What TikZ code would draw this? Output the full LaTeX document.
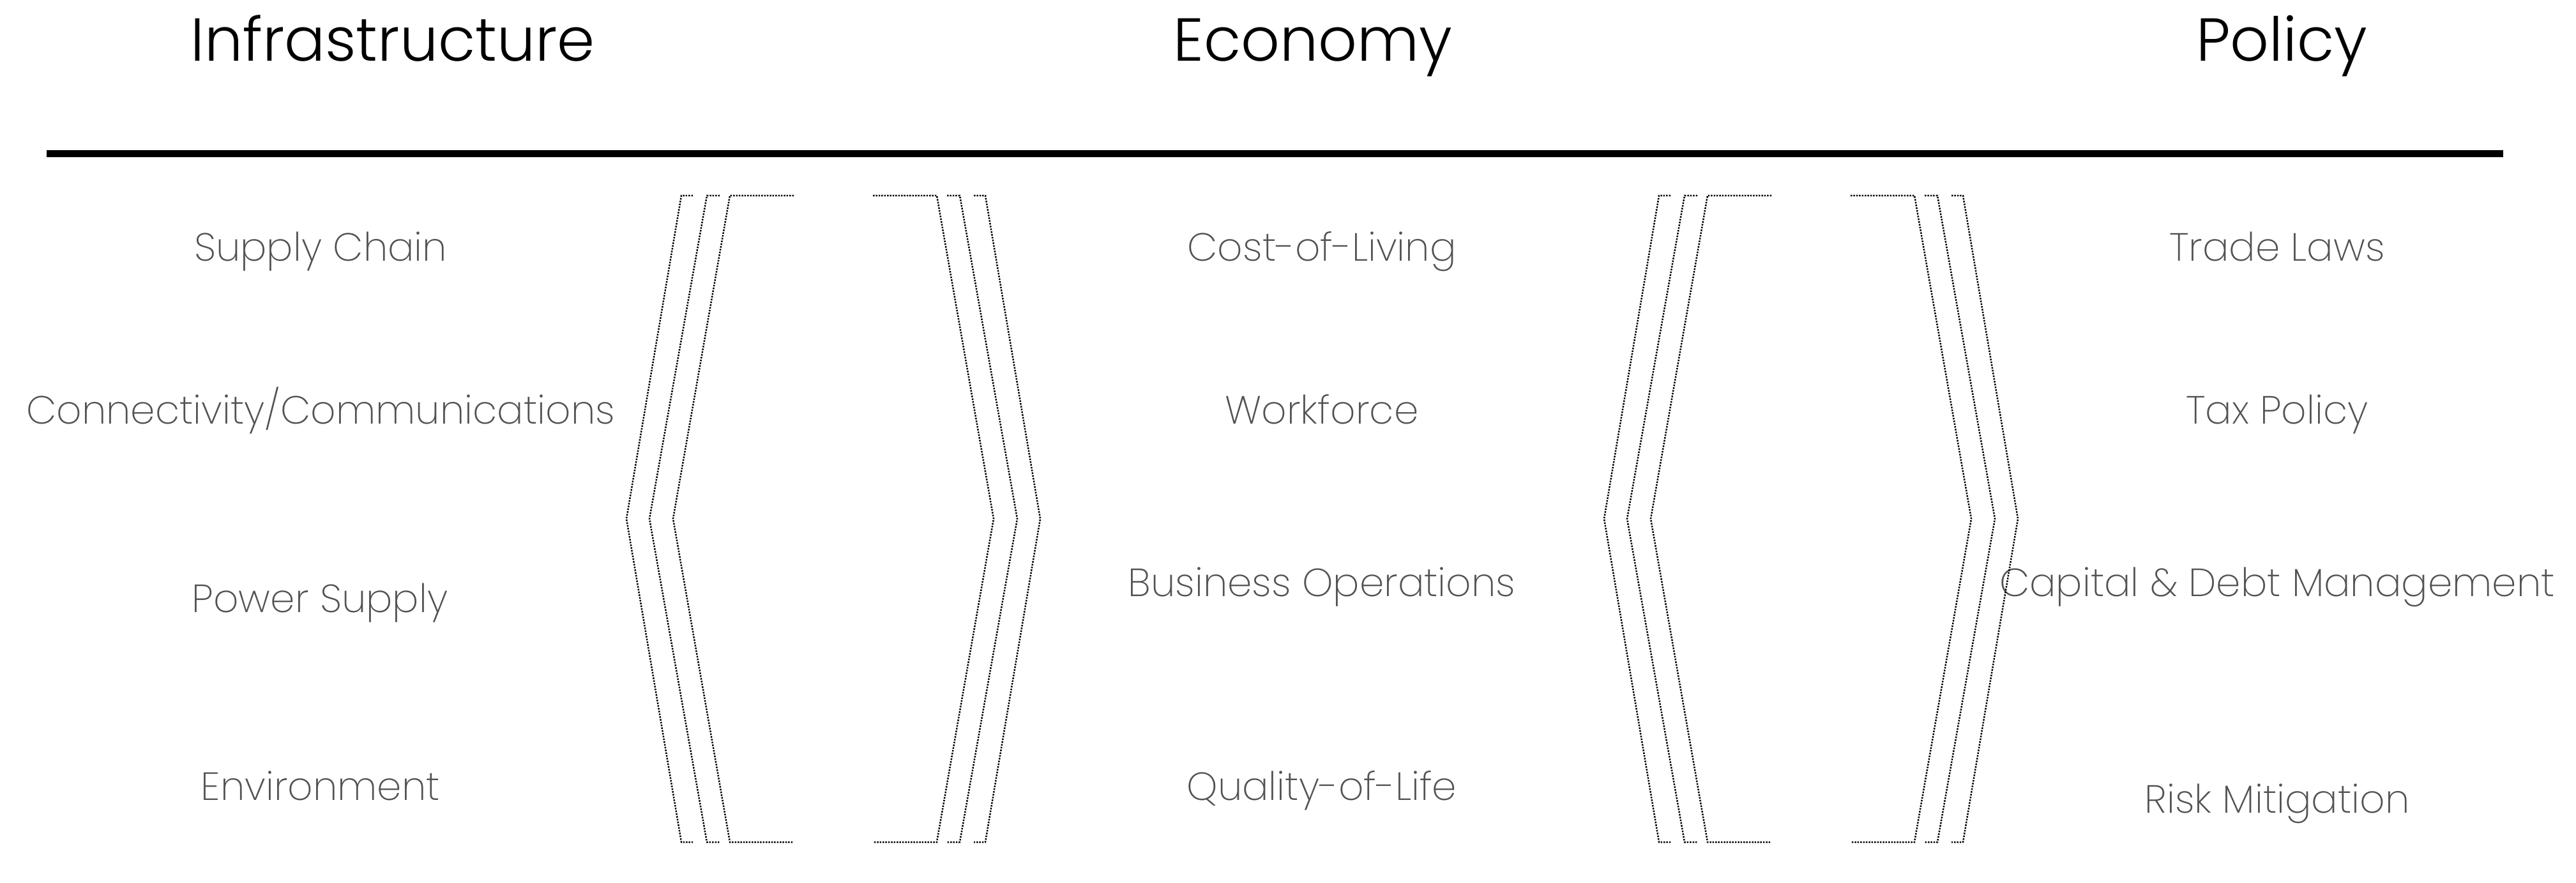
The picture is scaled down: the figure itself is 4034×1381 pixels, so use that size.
\documentclass[tikz,border=0pt]{standalone}
\usepackage{fontspec}
\setmainfont{Poppins Light}
\newfontfamily\thinfont{Poppins ExtraLight}
\begin{document}
\begin{tikzpicture}[x=0.1mm, y=-0.1mm,
    heading/.style={anchor=base, inner sep=0pt, font=\fontsize{27}{30}\selectfont},
    item/.style={anchor=base, inner sep=0pt, text=black!68, font=\thinfont\fontsize{17.5}{20}\selectfont},
    bracketline/.style={line width=0.25mm, dash pattern=on 0.25mm off 0.19mm}]
        \useasboundingbox (0,0) rectangle (4034,1381);

        % draw the headings
        \node[heading] (infra) at (615,95) {Infrastructure};
        \node[heading] (econ) at (2056,95) {Economy};
        \node[heading] (policy) at (3573,95) {Policy};

        % draw the rule under the headings
        \draw[line width=1.1mm] (73,240) -- (3920,240);

        % draw the infrastructure items
        \node[item] (supply) at (502,408) {Supply Chain};
        \node[item] (connect) at (502,663) {Connectivity/Communications};
        \node[item] (power) at (501,958) {Power Supply};
        \node[item] (environ) at (502,1252) {Environment};

        % draw the economy items
        \node[item] (cost) at (2070,408) {Cost-of-Living};
        \node[item] (work) at (2070,663) {Workforce};
        \node[item] (business) at (2070,933) {Business Operations};
        \node[item] (quality) at (2070,1252) {Quality-of-Life};

        % draw the policy items
        \node[item] (trade) at (3566,408) {Trade Laws};
        \node[item] (tax) at (3566,663) {Tax Policy};
        \node[item] (capital) at (3566,933) {Capital \& Debt Management};
        \node[item] (risk) at (3566,1272) {Risk Mitigation};

        % draw the dotted brackets between the columns
        \foreach \c in {1305,2836} {
            \foreach \d/\ap/\e in {238/324/220, 198/288/178, 162/251/62} {
                \draw[bracketline] (\c-\e,306) -- (\c-\d,306) -- (\c-\ap,812) -- (\c-\d,1318) -- (\c-\e,1318);
                \draw[bracketline] (\c+\e,306) -- (\c+\d,306) -- (\c+\ap,812) -- (\c+\d,1318) -- (\c+\e,1318);
            }
        }
    \end{tikzpicture}
\end{document}
